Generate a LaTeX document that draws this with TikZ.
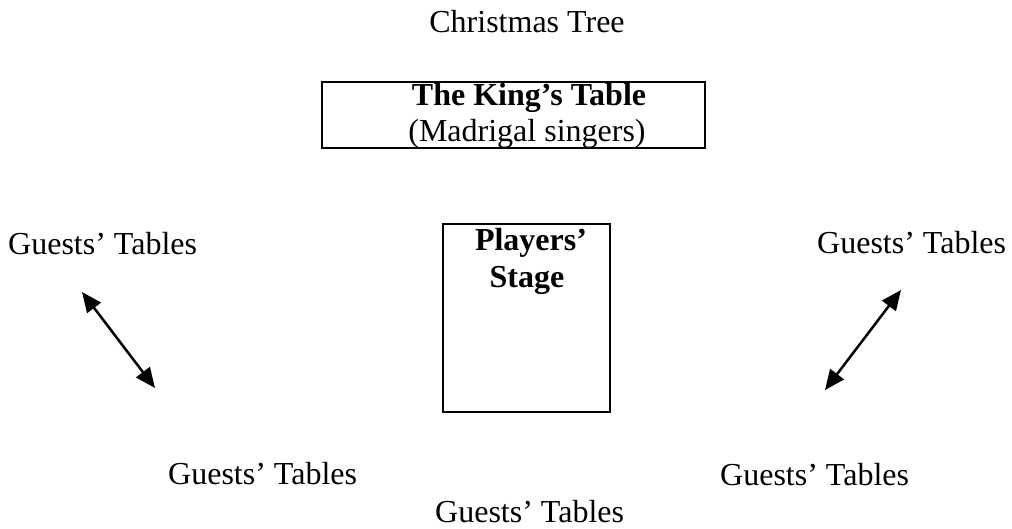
\documentclass[tikz,border=0pt]{standalone}
\usepackage{fontspec}
\setmainfont{Liberation Serif}
\usetikzlibrary{arrows.meta}
\begin{document}
\begin{tikzpicture}[x=1pt,y=-1pt,
  lbl/.style={inner sep=0pt, font=\fontsize{32}{38}\selectfont},
  boxline/.style={draw=black, line width=2pt},
  dblarrow/.style={line width=2.5pt, {Triangle[length=20pt,width=17pt]}-{Triangle[length=20pt,width=17pt]}}]
\useasboundingbox (0,0) rectangle (1012,529);
% texts
\node[lbl, anchor=base] (tree) at (527,33) {Christmas Tree};
\draw[boxline] (322,82) rectangle (705,148);
\node[lbl, anchor=base] (king) at (529,106) {\bfseries The King’s Table};
\node[lbl, anchor=base] (madr) at (527,142) {(Madrigal singers)};
\draw[boxline] (443,224) rectangle (610,412);
\node[lbl, anchor=base] (players) at (531,251) {\bfseries Players’};
\node[lbl, anchor=base] (stage) at (527,288) {\bfseries Stage};
\node[lbl, anchor=base west] (gl) at (8,255) {Guests’ Tables};
\node[lbl, anchor=base west] (gr) at (817,254) {Guests’ Tables};
\node[lbl, anchor=base west] (gbl) at (168,484) {Guests’ Tables};
\node[lbl, anchor=base west] (gbc) at (435,522) {Guests’ Tables};
\node[lbl, anchor=base west] (gbr) at (720,485) {Guests’ Tables};
% arrows
\coordinate (la) at (82,292);
\coordinate (lb) at (155,388);
\coordinate (ra) at (901,290);
\coordinate (rb) at (825,390);
\draw[dblarrow] (la) -- (lb);
\draw[dblarrow] (ra) -- (rb);
\end{tikzpicture}
\end{document}
